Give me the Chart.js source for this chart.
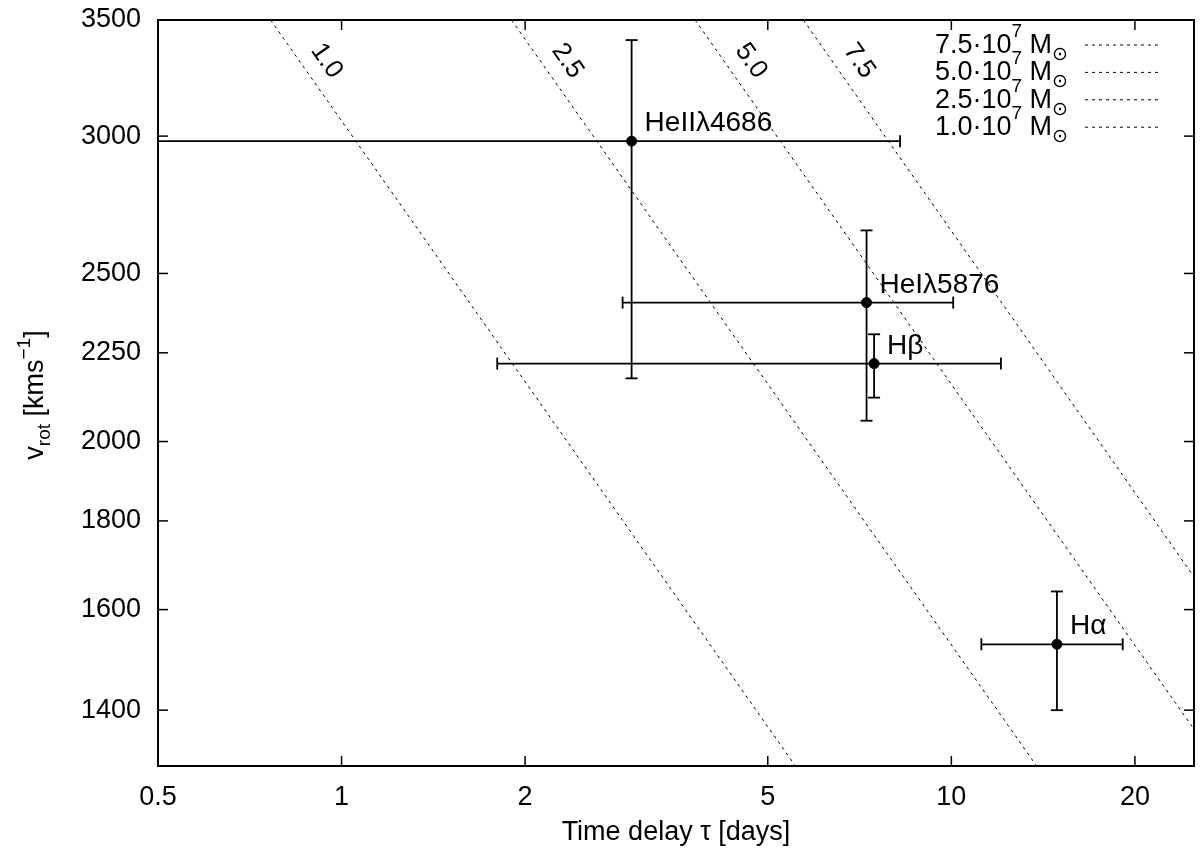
<!DOCTYPE html>
<html>
<head>
<meta charset="utf-8">
<script src="https://cdn.jsdelivr.net/npm/chart.js@4.4.0/dist/chart.umd.min.js"></script>
<style>
  html, body { margin: 0; padding: 0; background: #fff; }
</style>
</head>
<body>
<canvas id="myChart" width="1200" height="859"></canvas>
<script>
// emission lines: time delay (days) and rotation velocity (km/s), with error ranges
var lineNames = ['HeII\u03bb4686', 'HeI\u03bb5876', 'H\u03b2', 'H\u03b1'];
var tau    = [2.99, 7.26, 7.47, 14.9];
var tauLo  = [0.3, 2.89, 1.80, 11.2];
var tauHi  = [8.24, 10.07, 12.06, 19.1];
var vrot   = [2980, 2405, 2218, 1528];
var vrotLo = [2175, 2056, 2120, 1400];
var vrotHi = [3408, 2647, 2306, 1639];

// virial mass lines in 10^7 Msun, start and end points
var masses   = ['1.0', '2.5', '5.0', '7.5'];
var massTau0 = [0.765, 1.90, 3.80, 5.72];
var massV0   = [3500, 3500, 3500, 3500];
var massTau1 = [5.55, 13.8, 25, 25];
var massV1   = [1300, 1300, 1365, 1671];

var xTicks = [0.5, 1, 2, 5, 10, 20];
var yTicks = [1400, 1600, 1800, 2000, 2250, 2500, 3000, 3500];

var FONT = '"Liberation Sans", Arial, "DejaVu Sans", sans-serif';

var datasets = [{
  type: 'scatter',
  data: tau.map(function (t, i) { return { x: t, y: vrot[i] }; }),
  pointRadius: 5,
  pointHoverRadius: 5,
  backgroundColor: '#000',
  borderColor: '#000',
  order: 0
}];
masses.forEach(function (m, i) {
  datasets.push({
    type: 'line',
    label: m,
    data: [{ x: massTau0[i], y: massV0[i] }, { x: massTau1[i], y: massV1[i] }],
    borderColor: '#000',
    borderWidth: 1,
    borderDash: [3, 4],
    pointRadius: 0,
    fill: false,
    order: 1
  });
});

function line(ctx, x0, y0, x1, y1) {
  ctx.beginPath(); ctx.moveTo(x0, y0); ctx.lineTo(x1, y1); ctx.stroke();
}

// draw pieces of text with sub/superscripts, left to right
function richText(ctx, parts, x, y) {
  parts.forEach(function (p) {
    ctx.font = p.size + 'px ' + FONT;
    ctx.fillText(p.t, x, y + (p.dy || 0));
    x += ctx.measureText(p.t).width;
  });
  return x;
}
function richWidth(ctx, parts) {
  var w = 0;
  parts.forEach(function (p) {
    ctx.font = p.size + 'px ' + FONT;
    w += ctx.measureText(p.t).width;
  });
  return w;
}

var extras = {
  id: 'extras',
  beforeDatasetsDraw: function (chart) {
    var ctx = chart.ctx, xs = chart.scales.x, ys = chart.scales.y, a = chart.chartArea;
    ctx.save();
    ctx.beginPath();
    ctx.rect(a.left, a.top, a.right - a.left, a.bottom - a.top);
    ctx.clip();
    ctx.strokeStyle = '#000';
    ctx.lineWidth = 1.8;
    var cap = 6;
    for (var i = 0; i < tau.length; i++) {
      var px = xs.getPixelForValue(tau[i]), py = ys.getPixelForValue(vrot[i]);
      var xl = xs.getPixelForValue(tauLo[i]), xr = xs.getPixelForValue(tauHi[i]);
      var yt = ys.getPixelForValue(vrotHi[i]), yb = ys.getPixelForValue(vrotLo[i]);
      line(ctx, xl, py, xr, py);
      line(ctx, xl, py - cap, xl, py + cap);
      line(ctx, xr, py - cap, xr, py + cap);
      line(ctx, px, yt, px, yb);
      line(ctx, px - cap, yt, px + cap, yt);
      line(ctx, px - cap, yb, px + cap, yb);
    }
    ctx.restore();
  },
  afterDatasetsDraw: function (chart) {
    var ctx = chart.ctx, xs = chart.scales.x, ys = chart.scales.y, a = chart.chartArea;
    ctx.save();
    ctx.strokeStyle = '#000';
    ctx.fillStyle = '#000';

    // frame and inward ticks on all sides
    ctx.lineWidth = 1.5;
    var tl = 10;
    xTicks.forEach(function (v) {
      var x = xs.getPixelForValue(v);
      line(ctx, x, a.bottom, x, a.bottom - tl);
      line(ctx, x, a.top, x, a.top + tl);
    });
    yTicks.forEach(function (v) {
      var y = ys.getPixelForValue(v);
      line(ctx, a.left, y, a.left + tl, y);
      line(ctx, a.right, y, a.right - tl, y);
    });
    ctx.lineWidth = 2;
    ctx.strokeRect(a.left, a.top, a.right - a.left, a.bottom - a.top);

    // point labels
    ctx.textAlign = 'left';
    ctx.textBaseline = 'alphabetic';
    ctx.font = '28px ' + FONT;
    for (var i = 0; i < tau.length; i++) {
      ctx.fillText(lineNames[i], xs.getPixelForValue(tau[i]) + 13, ys.getPixelForValue(vrot[i]) - 10);
    }

    // mass labels along the dashed lines
    ctx.font = '26px ' + FONT;
    ctx.textAlign = 'center';
    ctx.textBaseline = 'middle';
    for (var j = 0; j < masses.length; j++) {
      var x0 = xs.getPixelForValue(massTau0[j]), y0 = ys.getPixelForValue(massV0[j]);
      var x1 = xs.getPixelForValue(massTau1[j]), y1 = ys.getPixelForValue(massV1[j]);
      var ang = Math.atan2(y1 - y0, x1 - x0);
      var yy = a.top + 41;
      var xx = x0 + (yy - y0) * (x1 - x0) / (y1 - y0) + 27;
      ctx.save();
      ctx.translate(xx, yy);
      ctx.rotate(ang);
      ctx.fillText(masses[j], 0, 0);
      ctx.restore();
    }

    // legend, top right
    ctx.textAlign = 'left';
    ctx.textBaseline = 'alphabetic';
    var order = [3, 2, 1, 0];
    order.forEach(function (k, r) {
      var ly = a.top + 25 + r * 27.4;
      var parts = [
        { t: masses[k] + '\u00b710', size: 27 },
        { t: '7', size: 19, dy: -16 },
        { t: ' M', size: 27 },
        { t: '\u2299', size: 19, dy: 7 }
      ];
      var w = richWidth(ctx, parts);
      richText(ctx, parts, 1068 - w, ly + 8);
      ctx.save();
      ctx.lineWidth = 1;
      ctx.setLineDash([3, 4]);
      line(ctx, 1085, ly, 1158, ly);
      ctx.restore();
    });

    // y axis title: v_rot [kms^-1]
    var yParts = [
      { t: 'v', size: 27 },
      { t: 'rot', size: 19, dy: 7 },
      { t: ' [kms', size: 27 },
      { t: '\u22121', size: 19, dy: -13 },
      { t: ']', size: 27 }
    ];
    ctx.save();
    ctx.translate(43, 395);
    ctx.rotate(-Math.PI / 2);
    var yw = richWidth(ctx, yParts);
    richText(ctx, yParts, -yw / 2, 0);
    ctx.restore();

    ctx.restore();
  }
};

var ctx = document.getElementById('myChart');
var myChart = new Chart(ctx, {
  type: 'scatter',
  data: { datasets: datasets },
  options: {
    responsive: false,
    devicePixelRatio: 1,
    animation: false,
    layout: { padding: { left: 0, right: 5, top: 20, bottom: 0 } },
    plugins: { legend: { display: false }, tooltip: { enabled: false } },
    scales: {
      x: {
        type: 'logarithmic',
        min: 0.5,
        max: 25,
        grid: { display: false, drawTicks: false },
        border: { display: false },
        afterBuildTicks: function (s) { s.ticks = xTicks.map(function (v) { return { value: v }; }); },
        afterFit: function (s) { s.height = 93; s.paddingLeft = 0; s.paddingRight = 0; },
        ticks: {
          color: '#000',
          font: { family: FONT, size: 27 },
          padding: 15,
          maxRotation: 0,
          autoSkip: false,
          callback: function (v) { return String(v); }
        },
        title: {
          display: true,
          text: 'Time delay \u03c4 [days]',
          color: '#000',
          font: { family: FONT, size: 27 },
          padding: { top: 0, bottom: 10 }
        }
      },
      y: {
        type: 'logarithmic',
        min: 1300,
        max: 3500,
        grid: { display: false, drawTicks: false },
        border: { display: false },
        afterBuildTicks: function (s) { s.ticks = yTicks.map(function (v) { return { value: v }; }); },
        afterFit: function (s) { s.width = 158; s.paddingTop = 0; s.paddingBottom = 0; },
        ticks: {
          color: '#000',
          font: { family: FONT, size: 27 },
          padding: 17,
          autoSkip: false,
          callback: function (v) { return String(v); }
        }
      }
    }
  },
  plugins: [extras]
});
</script>
</body>
</html>
